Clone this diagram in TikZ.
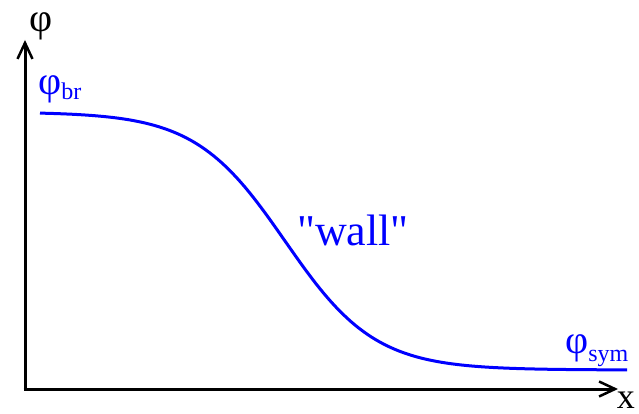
\documentclass[tikz,border=0pt]{standalone}
\usepackage{fontspec}
\setmainfont{Liberation Serif}
\newfontfamily\plainserif{Liberation Serif}[Ligatures=ResetAll]
\usetikzlibrary{arrows.meta}
\tikzset{
  axis/.style={line width=3pt, -{Straight Barb[length=16pt,width=15pt,line width=2.5pt]}},
  curve/.style={blue, line width=3pt},
  lbl/.style={inner sep=0pt, font=\fontsize{40}{44}\selectfont},
  bluelbl/.style={lbl, text=blue},
}
\begin{document}
\begin{tikzpicture}[x=1pt,y=-1pt]
\useasboundingbox (0,0) rectangle (639,414);
\coordinate (o) at (25,389);
\coordinate (ytip) at (25,40);
\coordinate (xtip) at (618,389);
\draw[axis] ([yshift=-1.5pt]o) -- (ytip);
\draw[axis] ([xshift=-1.5pt]o) -- (xtip);
\node[lbl, anchor=center] (phi) at (41,26) {φ};
\node[lbl, anchor=base east, font=\fontsize{36}{40}\selectfont] (x) at (635,408) {x};
\draw[curve] plot[domain=40:627, samples=150] (\x,{241+129*tanh((\x-285)/90)});
\node[bluelbl, anchor=base west] (phibr) at (38,95) {φ\raisebox{-5pt}{\fontsize{24}{26}\selectfont br}};
\node[bluelbl, anchor=base west] (phisym) at (565,353) {φ\raisebox{-8pt}{\fontsize{24}{26}\selectfont sym}};
\node[bluelbl, anchor=base west, font=\fontsize{44}{48}\selectfont\plainserif] (wall) at (297,245) {"wall"};
\end{tikzpicture}
\end{document}
